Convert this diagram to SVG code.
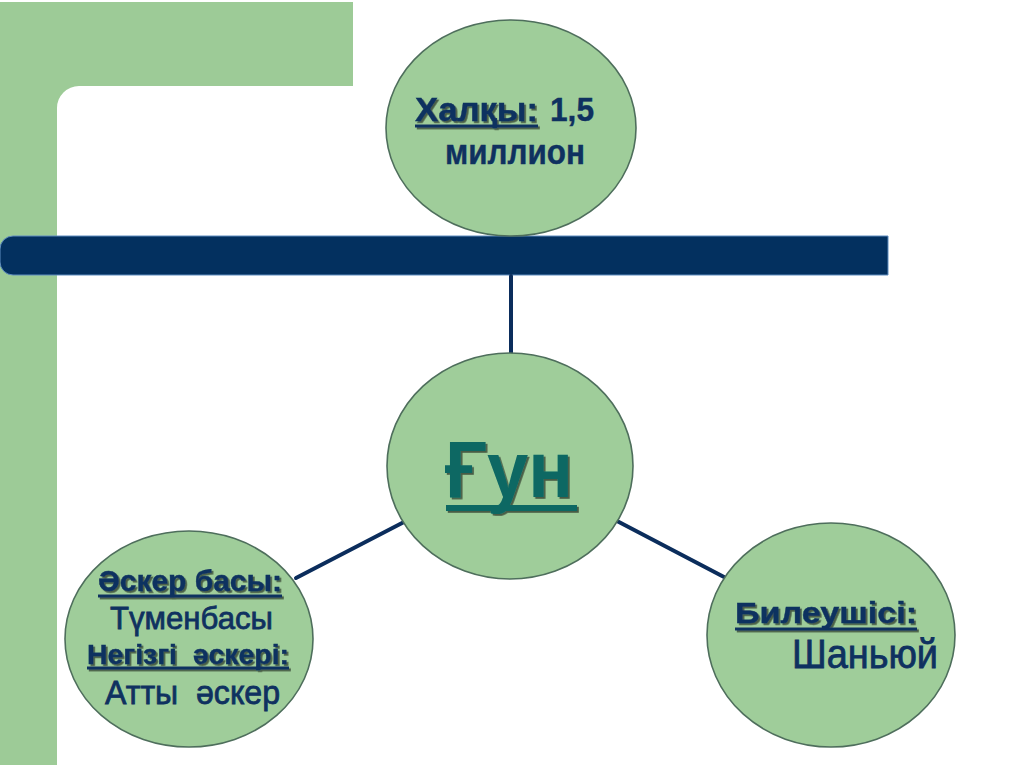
<svg xmlns="http://www.w3.org/2000/svg" width="1024" height="767" viewBox="0 0 1024 767">
<defs>
<filter id="sh" x="-10%" y="-10%" width="130%" height="140%">
<feDropShadow dx="1.8" dy="1.8" stdDeviation="0.4" flood-color="#000000" flood-opacity="0.55"/>
</filter>
<style>
.node{fill:#9fcd9a;stroke:#4e6e5c;stroke-width:1.6}
.conn{stroke:#0b2d5c;stroke-width:4;fill:none;stroke-linecap:round}
.t{font-family:"Liberation Sans",Arial,sans-serif;fill:#0f3160}
.b{font-weight:bold;stroke:#0f3160;stroke-width:0.4}
.r{stroke:#0f3160;stroke-width:0.8}
.ul{stroke:#0f3160;stroke-width:3}
</style>
</defs>
<rect width="1024" height="767" fill="#ffffff"/>
<g id="background">
<path d="M0,2 H353 V86 H79 A22 22 0 0 0 57 108 V765 H0 Z" fill="#9dcb97"/>
<path d="M13,236 H888 V275 H13 A13 13 0 0 1 0 262 V249 A13 13 0 0 1 13 236 Z" fill="#03305f" stroke="#5f8cbf" stroke-width="1"/>
</g>
<g id="connectors">
<line class="conn" x1="511" y1="276" x2="511" y2="354"/>
<line class="conn" x1="404" y1="522" x2="296" y2="578"/>
<line class="conn" x1="617" y1="521" x2="724" y2="577"/>
</g>
<g id="node-top">
<ellipse class="node" cx="511" cy="128" rx="125" ry="108"/>
<g filter="url(#sh)">
<text class="t b" x="415" y="121" font-size="34" textLength="123" lengthAdjust="spacingAndGlyphs">Халқы:</text>
<line class="ul" x1="415" y1="126" x2="538" y2="126"/>
</g>
<text class="t b" x="550" y="121" font-size="34" textLength="44" lengthAdjust="spacingAndGlyphs">1,5</text>
<text class="t b" x="445" y="164" font-size="35" textLength="140" lengthAdjust="spacingAndGlyphs">миллион</text>
</g>
<g id="node-center">
<ellipse class="node" cx="510" cy="466" rx="123" ry="113"/>
<g filter="url(#sh)">
<text x="445" y="497" font-family="Liberation Sans,Arial,sans-serif" font-weight="bold" font-size="80" fill="#0c6764" textLength="128" lengthAdjust="spacingAndGlyphs">Ғун</text>
<line x1="446" y1="508" x2="577" y2="508" stroke="#0c6764" stroke-width="6"/>
</g>
</g>
<g id="node-left">
<ellipse class="node" cx="189" cy="639" rx="124" ry="108"/>
<g filter="url(#sh)">
<text class="t b" x="98" y="591" font-size="29" textLength="184" lengthAdjust="spacingAndGlyphs">Әскер басы:</text>
<line class="ul" x1="98" y1="596" x2="282" y2="596"/>
</g>
<text class="t r" x="110" y="629" font-size="32" textLength="163" lengthAdjust="spacingAndGlyphs">Түменбасы</text>
<g filter="url(#sh)">
<text class="t b" x="87" y="664" font-size="28" textLength="202" lengthAdjust="spacingAndGlyphs" xml:space="preserve">Негізгі  әскері:</text>
<line class="ul" x1="87" y1="668" x2="289" y2="668"/>
</g>
<text class="t r" x="105" y="704" font-size="34" textLength="175" lengthAdjust="spacingAndGlyphs" xml:space="preserve">Атты  әскер</text>
</g>
<g id="node-right">
<ellipse class="node" cx="831" cy="635" rx="124" ry="112"/>
<g filter="url(#sh)">
<text class="t b" x="735" y="623" font-size="30" textLength="182" lengthAdjust="spacingAndGlyphs">Билеушісі:</text>
<line class="ul" x1="735" y1="629" x2="917" y2="629"/>
</g>
<text class="t r" x="792" y="668" font-size="40" textLength="146" lengthAdjust="spacingAndGlyphs">Шаньюй</text>
</g>
</svg>
